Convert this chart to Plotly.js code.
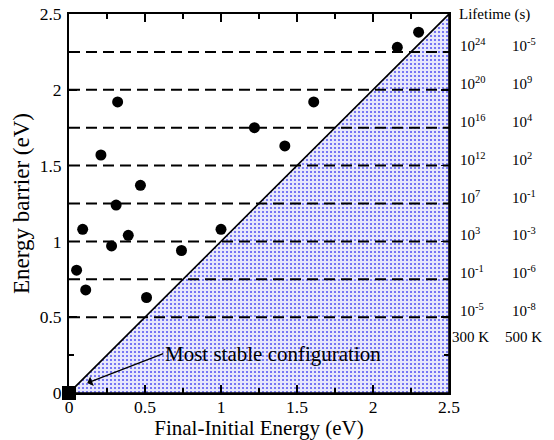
<!DOCTYPE html>
<html>
<head>
<meta charset="utf-8">
<script src="https://cdn.plot.ly/plotly-3.0.1.min.js"></script>
<style>html,body{margin:0;padding:0;background:#fff;}#chart{width:554px;height:440px;}</style>
</head>
<body>
<div id="chart"></div>
<script>
// Data
const finalInitial = [0.05, 0.11, 0.09, 0.21, 0.28, 0.31, 0.32, 0.39, 0.47, 0.51, 0.74, 1.00, 1.22, 1.42, 1.61, 2.16, 2.30];
const barrier      = [0.81, 0.68, 1.08, 1.57, 0.97, 1.24, 1.92, 1.04, 1.37, 0.63, 0.94, 1.08, 1.75, 1.63, 1.92, 2.28, 2.38];
const stableX = [0];
const stableY = [0];
const barrierLevels = [2.25, 2.0, 1.75, 1.5, 1.25, 1.0, 0.75, 0.5];
const life300K = ['24', '20', '16', '12', '7', '3', '-1', '-5'];
const life500K = ['-5', '9', '4', '2', '-1', '-3', '-6', '-8'];
const axisMax = 2.5;

const serif = 'Liberation Serif';

// shaded region below diagonal
const triangle = {
  x: [0, axisMax, axisMax, 0], y: [0, axisMax, 0, 0],
  mode: 'lines', fill: 'toself',
  fillcolor: '#e0e0fa',
  fillpattern: {shape: '.', fgcolor: '#5a5af2', bgcolor: '#e8e8fc', size: 4, solidity: 0.22},
  line: {color: '#000', width: 1.6},
  hoverinfo: 'skip', showlegend: false
};

// dashed lifetime levels
const dx = [], dy = [];
barrierLevels.forEach(v => { dx.push(0, axisMax, null); dy.push(v, v, null); });
const dashed = {
  x: dx, y: dy, mode: 'lines',
  line: {color: '#000', width: 2, dash: '11px,6px'},
  hoverinfo: 'skip', showlegend: false
};

const pts = {
  x: finalInitial, y: barrier, mode: 'markers',
  marker: {color: '#000', size: 11, symbol: 'circle'},
  showlegend: false
};

const sq = {
  x: stableX, y: stableY, mode: 'markers', cliponaxis: false,
  marker: {color: '#000', size: 14, symbol: 'square'},
  showlegend: false
};

const lblFont = {family: serif, size: 15, color: '#000'};
const annotations = [];
barrierLevels.forEach((v, i) => {
  annotations.push({xref: 'paper', yref: 'y', x: 1.024, y: v, xanchor: 'left', yanchor: 'bottom', yshift: -4,
    text: '10<sup>' + life300K[i] + '</sup>', showarrow: false, font: lblFont});
  annotations.push({xref: 'paper', yref: 'y', x: 1.16, y: v, xanchor: 'left', yanchor: 'bottom', yshift: -4,
    text: '10<sup>' + life500K[i] + '</sup>', showarrow: false, font: lblFont});
});
annotations.push({xref: 'paper', yref: 'paper', x: 1.02, y: 1.0, xanchor: 'left', yanchor: 'middle',
  text: 'Lifetime (s)', showarrow: false, font: lblFont});
annotations.push({xref: 'paper', yref: 'y', x: 1.003, y: 0.37, xanchor: 'left', yanchor: 'middle',
  text: '300 K', showarrow: false, font: lblFont});
annotations.push({xref: 'paper', yref: 'y', x: 1.142, y: 0.37, xanchor: 'left', yanchor: 'middle',
  text: '500 K', showarrow: false, font: lblFont});
annotations.push({xref: 'x', yref: 'y', x: 0.12, y: 0.066, axref: 'x', ayref: 'y', ax: 0.62, ay: 0.26,
  xanchor: 'left', yanchor: 'middle',
  text: 'Most stable configuration', showarrow: true, arrowhead: 1, arrowsize: 1.3, arrowwidth: 1.3, arrowcolor: '#000',
  font: {family: serif, size: 21, color: '#000'}});

const axisCommon = {
  range: [0, axisMax], dtick: 0.5, ticks: 'inside', ticklen: 8, tickwidth: 1.5, tickcolor: '#000',
  showline: true, linecolor: '#000', linewidth: 2, mirror: 'ticks', showgrid: false, zeroline: false,
  minor: {dtick: 0.25, ticks: 'inside', ticklen: 5, tickwidth: 1.5, tickcolor: '#000', showgrid: false},
  tickfont: {family: serif, size: 17.5, color: '#000'}, fixedrange: true
};

const layout = {
  width: 554, height: 440,
  margin: {l: 69, r: 105, t: 14, b: 47},
  paper_bgcolor: '#fff', plot_bgcolor: '#fff',
  font: {family: serif, color: '#000'},
  xaxis: Object.assign({}, axisCommon, {ticklabelstandoff: -3, title: {text: 'Final-Initial Energy (eV)', standoff: 5, font: {family: serif, size: 21, color: '#000'}}}),
  yaxis: Object.assign({}, axisCommon, {ticklabelstandoff: 2, title: {text: 'Energy barrier (eV)', standoff: 4, font: {family: serif, size: 23, color: '#000'}}}),
  annotations: annotations,
  showlegend: false
};

Plotly.newPlot('chart', [triangle, dashed, pts, sq], layout, {displayModeBar: false, staticPlot: true});
</script>
</body>
</html>
